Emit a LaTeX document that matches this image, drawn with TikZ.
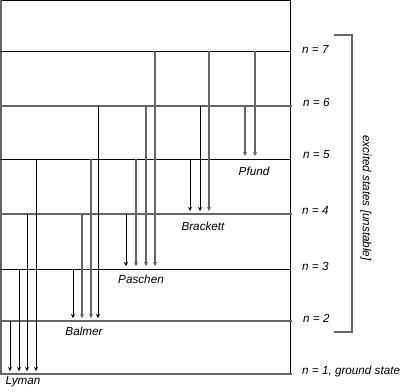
\documentclass[tikz,border=0pt]{standalone}
\usepackage{fontspec}
\setmainfont{Liberation Sans}
\usetikzlibrary{positioning,arrows.meta}
\tikzstyle{drop} = [black,line width=0.9pt,-{Stealth[length=4pt,width=4pt]},shorten >=3pt]
\tikzstyle{gdrop} = [drop,black!60,line width=1.3pt]

\begin{document}
\begin{tikzpicture}[x=1pt,y=-1pt,
	level/.style = {black,line width=0.9pt},
	glevel/.style = {black!60,line width=1.3pt},
	lbl/.style = {font=\fontsize{11.7}{13}\selectfont\itshape,inner sep=0pt},
	]
	\useasboundingbox (0,0) rectangle (401,391);
	% energy levels
	\coordinate (top) at (0,0);
	\coordinate (n7) at (0,51);
	\coordinate (n6) at (0,106);
	\coordinate (n5) at (0,159);
	\coordinate (n4) at (0,214);
	\coordinate (n3) at (0,269);
	\coordinate (n2) at (0,321);
	\coordinate (n1) at (0,374);
	\coordinate (rt) at (290,0);
	\draw[level] (top) -- (rt) -- (rt |- n1);
	\draw[glevel] ([xshift=1pt]top) -- ([xshift=1pt]n1);
	\draw[level] (n7) -- (n7 -| rt);
	\draw[glevel] (n6) -- ([xshift=2pt]n6 -| rt);
	\draw[level] (n5) -- (n5 -| rt);
	\draw[glevel] (n4) -- ([xshift=2pt]n4 -| rt);
	\draw[level] (n3) -- (n3 -| rt);
	\draw[glevel] (n2) -- ([xshift=2pt]n2 -| rt);
	\draw[glevel] (n1) -- ([xshift=2pt]n1 -| rt);
	% Lyman
	\draw[drop] ([xshift=10pt]n2) -- ([xshift=10pt]n1);
	\draw[drop] ([xshift=19pt]n3) -- ([xshift=19pt]n1);
	\draw[drop] ([xshift=27pt]n4) -- ([xshift=27pt]n1);
	\draw[drop] ([xshift=36pt]n5) -- ([xshift=36pt]n1);
	% Balmer
	\draw[drop] ([xshift=73pt]n3) -- ([xshift=73pt]n2);
	\draw[gdrop] ([xshift=82pt]n4) -- ([xshift=82pt]n2);
	\draw[gdrop] ([xshift=91pt]n5) -- ([xshift=91pt]n2);
	\draw[drop] ([xshift=98pt]n6) -- ([xshift=98pt]n2);
	% Paschen
	\draw[drop] ([xshift=126pt]n4) -- ([xshift=126pt]n3);
	\draw[gdrop] ([xshift=136pt]n5) -- ([xshift=136pt]n3);
	\draw[gdrop] ([xshift=146pt]n6) -- ([xshift=146pt]n3);
	\draw[gdrop] ([xshift=155pt]n7) -- ([xshift=155pt]n3);
	% Brackett
	\draw[drop] ([xshift=190pt]n5) -- ([xshift=190pt]n4);
	\draw[drop] ([xshift=200pt]n6) -- ([xshift=200pt]n4);
	\draw[gdrop] ([xshift=209pt]n7) -- ([xshift=209pt]n4);
	% Pfund
	\draw[gdrop] ([xshift=245pt]n6) -- ([xshift=245pt]n5);
	\draw[gdrop] ([xshift=255pt]n7) -- ([xshift=255pt]n5);
	% series names
	\node[lbl] (lyman) at (23,382) {Lyman};
	\node[lbl] (balmer) at (84,331) {Balmer};
	\node[lbl] (paschen) at (141,279) {Paschen};
	\node[lbl] (brackett) at (203,226) {Brackett};
	\node[lbl] (pfund) at (254,171) {Pfund};
	% level names
	\node[lbl,anchor=west] (l7) at (302,49) {n = 7};
	\node[lbl,anchor=west] (l6) at (303,102) {n = 6};
	\node[lbl,anchor=west] (l5) at (303,155) {n = 5};
	\node[lbl,anchor=west] (l4) at (302,210) {n = 4};
	\node[lbl,anchor=west] (l3) at (302,266) {n = 3};
	\node[lbl,anchor=west] (l2) at (303,318) {n = 2};
	\node[lbl,anchor=west] (l1) at (302,371) {n = 1, ground state};
	% bracket
	\coordinate (bt) at (334,35);
	\coordinate (bb) at (334,332);
	\draw[glevel] (bt) -- ++(18,0) |- (bb);
	\node[lbl,rotate=-90] (exc) at (366,198) {excited states [unstable]};
\end{tikzpicture}
\end{document}
